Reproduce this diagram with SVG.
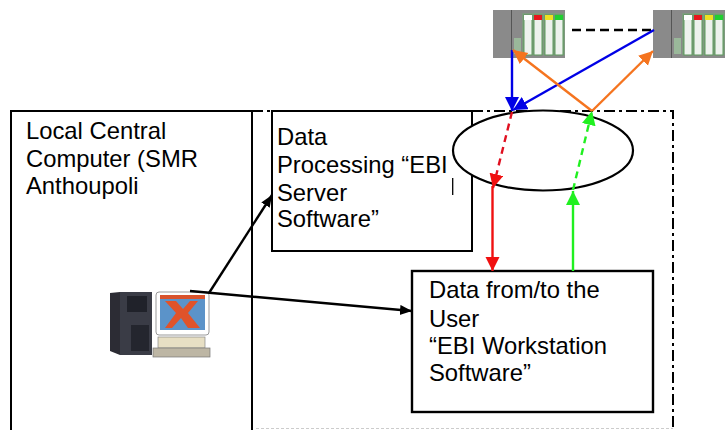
<svg xmlns="http://www.w3.org/2000/svg" width="725" height="430" viewBox="0 0 725 430">
<style>
text{font-family:"Liberation Sans",Arial,sans-serif;font-size:23.8px;fill:#000}
.box{fill:#fff;stroke:#000;stroke-width:2}
.line{fill:none;stroke-width:2.4}
.slot{fill:#eef2ee;stroke:#5c9a5c;stroke-width:1}
</style>
<defs>
<marker id="aBlue" markerUnits="userSpaceOnUse" markerWidth="16" markerHeight="16" refX="14" refY="7" orient="auto"><path d="M0 0L14 7L0 14Z" fill="#0000e6"/></marker>
<marker id="aOrange" markerUnits="userSpaceOnUse" markerWidth="16" markerHeight="16" refX="14" refY="7" orient="auto"><path d="M0 0L14 7L0 14Z" fill="#f5741f"/></marker>
<marker id="aRed" markerUnits="userSpaceOnUse" markerWidth="16" markerHeight="16" refX="14" refY="7" orient="auto"><path d="M0 0L14 7L0 14Z" fill="#f01010"/></marker>
<marker id="aGreen" markerUnits="userSpaceOnUse" markerWidth="16" markerHeight="16" refX="14" refY="7" orient="auto"><path d="M0 0L14 7L0 14Z" fill="#20f020"/></marker>
<marker id="aBlack" markerUnits="userSpaceOnUse" markerWidth="14" markerHeight="12" refX="12" refY="5" orient="auto"><path d="M0 0L12 5L0 10Z" fill="#000"/></marker>
<g id="plc">
<rect x="0" y="0" width="72" height="48" fill="#8a8a8a"/>
<rect x="18" y="0" width="1" height="48" fill="#555"/>
<rect x="21" y="28" width="7" height="16" fill="#9ab89a"/>
<rect x="29" y="3" width="43" height="42" fill="#7f9a7f"/>
<rect class="slot" x="31" y="5" width="8" height="40"/><rect x="31" y="5" width="8" height="5" fill="#fff"/>
<rect class="slot" x="41" y="5" width="8" height="40"/><rect x="41" y="5" width="8" height="5" fill="#e8141c"/>
<rect class="slot" x="52" y="5" width="8" height="40"/><rect x="52" y="5" width="8" height="5" fill="#f0e020"/>
<rect class="slot" x="62" y="5" width="8" height="40"/><rect x="62" y="5" width="8" height="5" fill="#20d030"/>
</g>
</defs>
<rect width="725" height="430" fill="#fff"/>

<g id="boundary">
<path d="M252 111H673V430" fill="none" stroke="#000" stroke-width="2" stroke-dasharray="11 4 3 4"/>
<path d="M256 428.5H673" fill="none" stroke="#ccc" stroke-width="1" stroke-dasharray="3 2"/>
</g>

<g id="node-local"><rect class="box" x="11" y="111" width="241" height="325"/>
<text x="26" y="139">Local Central</text><text x="26" y="167">Computer (SMR</text><text x="26" y="194">Anthoupoli</text></g>

<g id="node-server"><rect class="box" x="272" y="111" width="200" height="140"/>
<text x="277" y="145">Data</text><text x="277" y="173">Processing “EBI</text><text x="277" y="201">Server</text><text x="277" y="227">Software”</text>
<path d="M452.7 178V195" stroke="#000" stroke-width="1.3"/></g>

<g id="node-cloud"><ellipse cx="543" cy="150.500" rx="90" ry="40" fill="#fff" stroke="#000" stroke-width="2.2"/></g>

<g id="node-workstation"><rect x="412" y="271" width="241" height="141" fill="#fff" stroke="#000" stroke-width="2.4"/>
<text x="429" y="298">Data from/to the</text><text x="429" y="327">User</text><text x="429" y="354">“EBI Workstation</text><text x="429" y="381">Software”</text></g>

<g id="node-plc1"><use href="#plc" x="493" y="10"/></g>
<g id="node-plc2"><use href="#plc" x="653" y="10"/></g>

<g id="node-computer">
<path d="M110 293L120 292V355L110 351Z" fill="#2c2c34"/>
<rect x="120" y="292" width="32" height="63" fill="#3a3c46"/>
<rect x="127" y="296" width="20" height="16" fill="#20222a"/>
<rect x="131" y="325" width="18" height="26" fill="#24262e"/>
<rect x="156" y="292" width="53" height="43" rx="3" fill="#fff" stroke="#999" stroke-width="1"/>
<rect x="160" y="295" width="45" height="35" fill="#5b93c9"/>
<rect x="160" y="295" width="45" height="4" fill="#d9532c"/>
<path d="M165 301L176 301L183 309L190 301L198 301L188 313L200 328L188 328L181 318L172 328L165 328L176 313Z" fill="#e0532a"/>
<rect x="158" y="337" width="47" height="11" fill="#e7dfc4" stroke="#888" stroke-width=".7"/>
<rect x="153" y="348" width="57" height="9" fill="#bdb6a4" stroke="#777" stroke-width=".7"/>
</g>

<g id="connectors">
<path class="line" d="M572 30H653" stroke="#000" stroke-dasharray="9 5"/>
<path class="line" d="M512 50V111" stroke="#0000e6" marker-end="url(#aBlue)"/>
<path class="line" d="M654 30L513 110" stroke="#0000e6" marker-end="url(#aBlue)"/>
<path class="line" d="M592 111L513 50" stroke="#f5741f" marker-end="url(#aOrange)"/>
<path class="line" d="M592 111L653 51" stroke="#f5741f" marker-end="url(#aOrange)"/>
<path class="line" d="M512 112L493 188" stroke="#e01020" stroke-dasharray="7 5" marker-end="url(#aRed)"/>
<path class="line" d="M492.500 186V271" stroke="#f01010" marker-end="url(#aRed)"/>
<path class="line" d="M573 271V191" stroke="#20f020" marker-end="url(#aGreen)"/>
<path class="line" d="M573 190L592 111" stroke="#20f020" stroke-dasharray="7 5" marker-end="url(#aGreen)"/>
<path class="line" d="M209 293L272 195" stroke="#000" marker-end="url(#aBlack)"/>
<path class="line" d="M190 291L412 311" stroke="#000" marker-end="url(#aBlack)"/>
</g>
</svg>
